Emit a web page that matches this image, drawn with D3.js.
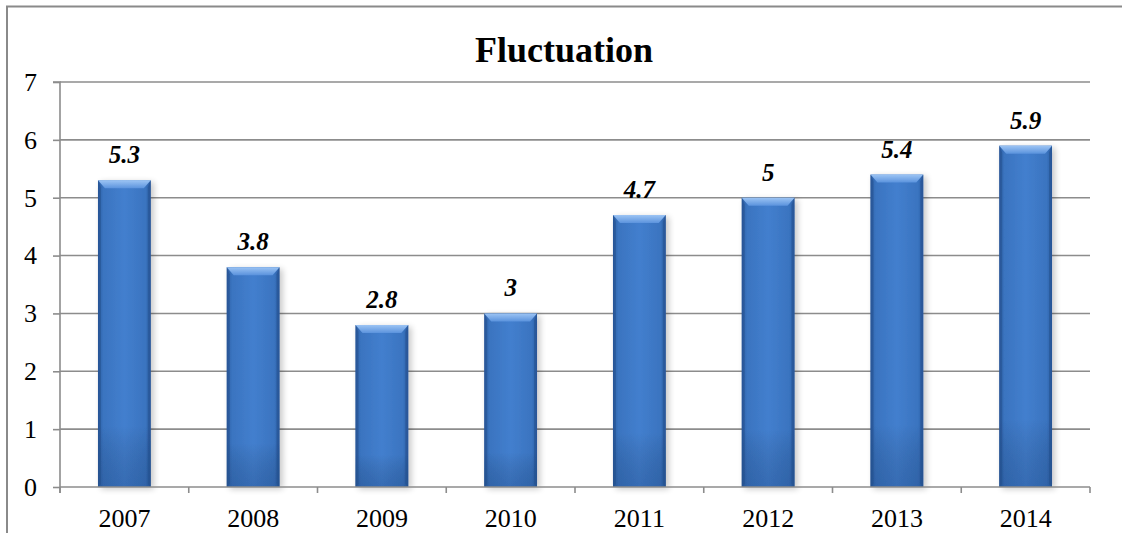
<!DOCTYPE html>
<html>
<head>
<meta charset="utf-8">
<script src="https://cdn.jsdelivr.net/npm/d3@7"></script>
<style>
  html, body { margin: 0; padding: 0; background: #fff; }
  svg { display: block; }
</style>
</head>
<body>
<svg id="chart" width="1122" height="533"></svg>
<script>
const categories = ["2007", "2008", "2009", "2010", "2011", "2012", "2013", "2014"];
const values = [5.3, 3.8, 2.8, 3, 4.7, 5, 5.4, 5.9];
const valueLabels = ["5.3", "3.8", "2.8", "3", "4.7", "5", "5.4", "5.9"];
const yTicks = [0, 1, 2, 3, 4, 5, 6, 7];
const title = "Fluctuation";

const FONT = "'Liberation Serif', 'Times New Roman', Tinos, 'DejaVu Serif', serif";
const svg = d3.select("#chart");
const W = 1122, H = 533;
const plot = { left: 60, right: 1090, top: 82, bottom: 487 };

svg.append("rect")
  .attr("x", 7).attr("y", 6.5).attr("width", W + 20).attr("height", H + 20)
  .attr("fill", "#fff").attr("stroke", "#8a8a8a").attr("stroke-width", 2);

const x = d3.scaleBand().domain(categories)
  .range([plot.left, plot.right]).paddingInner(0.59).paddingOuter(0.295);
const y = d3.scaleLinear().domain([0, 7]).range([plot.bottom, plot.top]);

const defs = svg.append("defs");
const gMain = defs.append("linearGradient").attr("id", "gMain").attr("x1", 0).attr("x2", 1).attr("y1", 0).attr("y2", 0);
[[0, "#2d5ea3"], [0.1, "#3a74c0"], [0.5, "#437fce"], [0.9, "#3a74c0"], [1, "#2d5ea3"]]
  .forEach(([o, c]) => gMain.append("stop").attr("offset", o).attr("stop-color", c));
const gV = defs.append("linearGradient").attr("id", "gV").attr("x1", 0).attr("x2", 0).attr("y1", 0).attr("y2", 1);
[[0, "#000", 0], [0.8, "#000", 0.0], [1, "#0a2a5a", 0.22]]
  .forEach(([o, c, op]) => gV.append("stop").attr("offset", o).attr("stop-color", c).attr("stop-opacity", op));
const gTop = defs.append("linearGradient").attr("id", "gTop").attr("x1", 0).attr("x2", 0).attr("y1", 0).attr("y2", 1);
[[0, "#9cc4f4"], [1, "#5b93dd"]]
  .forEach(([o, c]) => gTop.append("stop").attr("offset", o).attr("stop-color", c));
const shadow = defs.append("filter").attr("id", "shadow").attr("x", "-20%").attr("y", "-5%").attr("width", "150%").attr("height", "115%");
shadow.append("feGaussianBlur").attr("in", "SourceAlpha").attr("stdDeviation", 3).attr("result", "b");
shadow.append("feOffset").attr("dx", 3).attr("dy", 2).attr("result", "o");
shadow.append("feComponentTransfer").append("feFuncA").attr("type", "linear").attr("slope", 0.22);
const fm = shadow.append("feMerge");
fm.append("feMergeNode");
fm.append("feMergeNode").attr("in", "SourceGraphic");

svg.append("g").selectAll("line").data(yTicks.filter(d => d > 0)).join("line")
  .attr("x1", plot.left).attr("x2", plot.right)
  .attr("y1", d => y(d)).attr("y2", d => y(d))
  .attr("stroke", "#8c8c8c").attr("stroke-width", 1.6);

const bw = x.bandwidth();
const bev = 7;
const bars = svg.append("g").selectAll("g").data(categories).join("g")
  .attr("filter", "url(#shadow)");
bars.each(function(c, i) {
  const g = d3.select(this);
  const x0 = x(c), y0 = y(values[i]), h = y(0) - y(values[i]);
  g.append("rect").attr("x", x0).attr("y", y0).attr("width", bw).attr("height", h).attr("fill", "url(#gMain)");
  g.append("rect").attr("x", x0).attr("y", y0).attr("width", bw).attr("height", h).attr("fill", "url(#gV)");
  g.append("polygon")
    .attr("points", [[x0, y0], [x0 + bw, y0], [x0 + bw - bev, y0 + bev + 1], [x0 + bev, y0 + bev + 1]].map(p => p.join(",")).join(" "))
    .attr("fill", "url(#gTop)");
  g.append("polygon")
    .attr("points", [[x0, y0], [x0 + 3, y0 + bev], [x0 + 3, y0 + h - 3], [x0, y0 + h]].map(p => p.join(",")).join(" "))
    .attr("fill", "#25508e").attr("opacity", 0.55);
  g.append("polygon")
    .attr("points", [[x0 + bw, y0], [x0 + bw - 3, y0 + bev], [x0 + bw - 3, y0 + h - 3], [x0 + bw, y0 + h]].map(p => p.join(",")).join(" "))
    .attr("fill", "#25508e").attr("opacity", 0.55);
});

svg.append("g").selectAll("text").data(categories).join("text")
  .attr("x", c => x(c) + bw / 2)
  .attr("y", (c, i) => y(values[i]) - 17)
  .attr("text-anchor", "middle")
  .style("font-family", FONT)
  .style("font-size", "25px").style("font-weight", "bold").style("font-style", "italic")
  .attr("fill", "#000")
  .text((c, i) => valueLabels[i]);

const yAxis = d3.axisLeft(y).tickValues(yTicks).tickSize(7).tickPadding(16).tickFormat(d3.format("d"));
const gy = svg.append("g").attr("transform", `translate(${plot.left},0)`).call(yAxis);
gy.attr("font-family", null).attr("font-size", null);
gy.select(".domain").attr("stroke", "#8c8c8c").attr("stroke-width", 1.6).attr("d", `M-7,${plot.top}H0V${plot.bottom + 6}`);
gy.selectAll(".tick line").attr("stroke", "#8c8c8c").attr("stroke-width", 1.6);
gy.selectAll(".tick text").style("font-size", "26px").style("font-family", FONT).attr("fill", "#000");

const gx = svg.append("g").attr("transform", `translate(0,${plot.bottom})`);
gx.append("line").attr("x1", plot.left).attr("x2", plot.right).attr("stroke", "#8c8c8c").attr("stroke-width", 1.6);
const bounds = categories.map(c => x(c) - x.step() * x.paddingInner() / 2).concat([plot.right]);
gx.selectAll("line.tk").data(bounds).join("line").attr("class", "tk")
  .attr("x1", d => d).attr("x2", d => d).attr("y1", 0).attr("y2", 6)
  .attr("stroke", "#8c8c8c").attr("stroke-width", 1.6);
gx.selectAll("text").data(categories).join("text")
  .attr("x", c => x(c) + bw / 2).attr("y", 40)
  .attr("text-anchor", "middle").style("font-size", "26px").style("font-family", FONT)
  .attr("fill", "#000")
  .text(c => c);

svg.append("text").attr("x", 564).attr("y", 62)
  .attr("text-anchor", "middle").style("font-family", FONT)
  .style("font-size", "36px").style("font-weight", "bold")
  .attr("fill", "#000")
  .text(title);
</script>
</body>
</html>
